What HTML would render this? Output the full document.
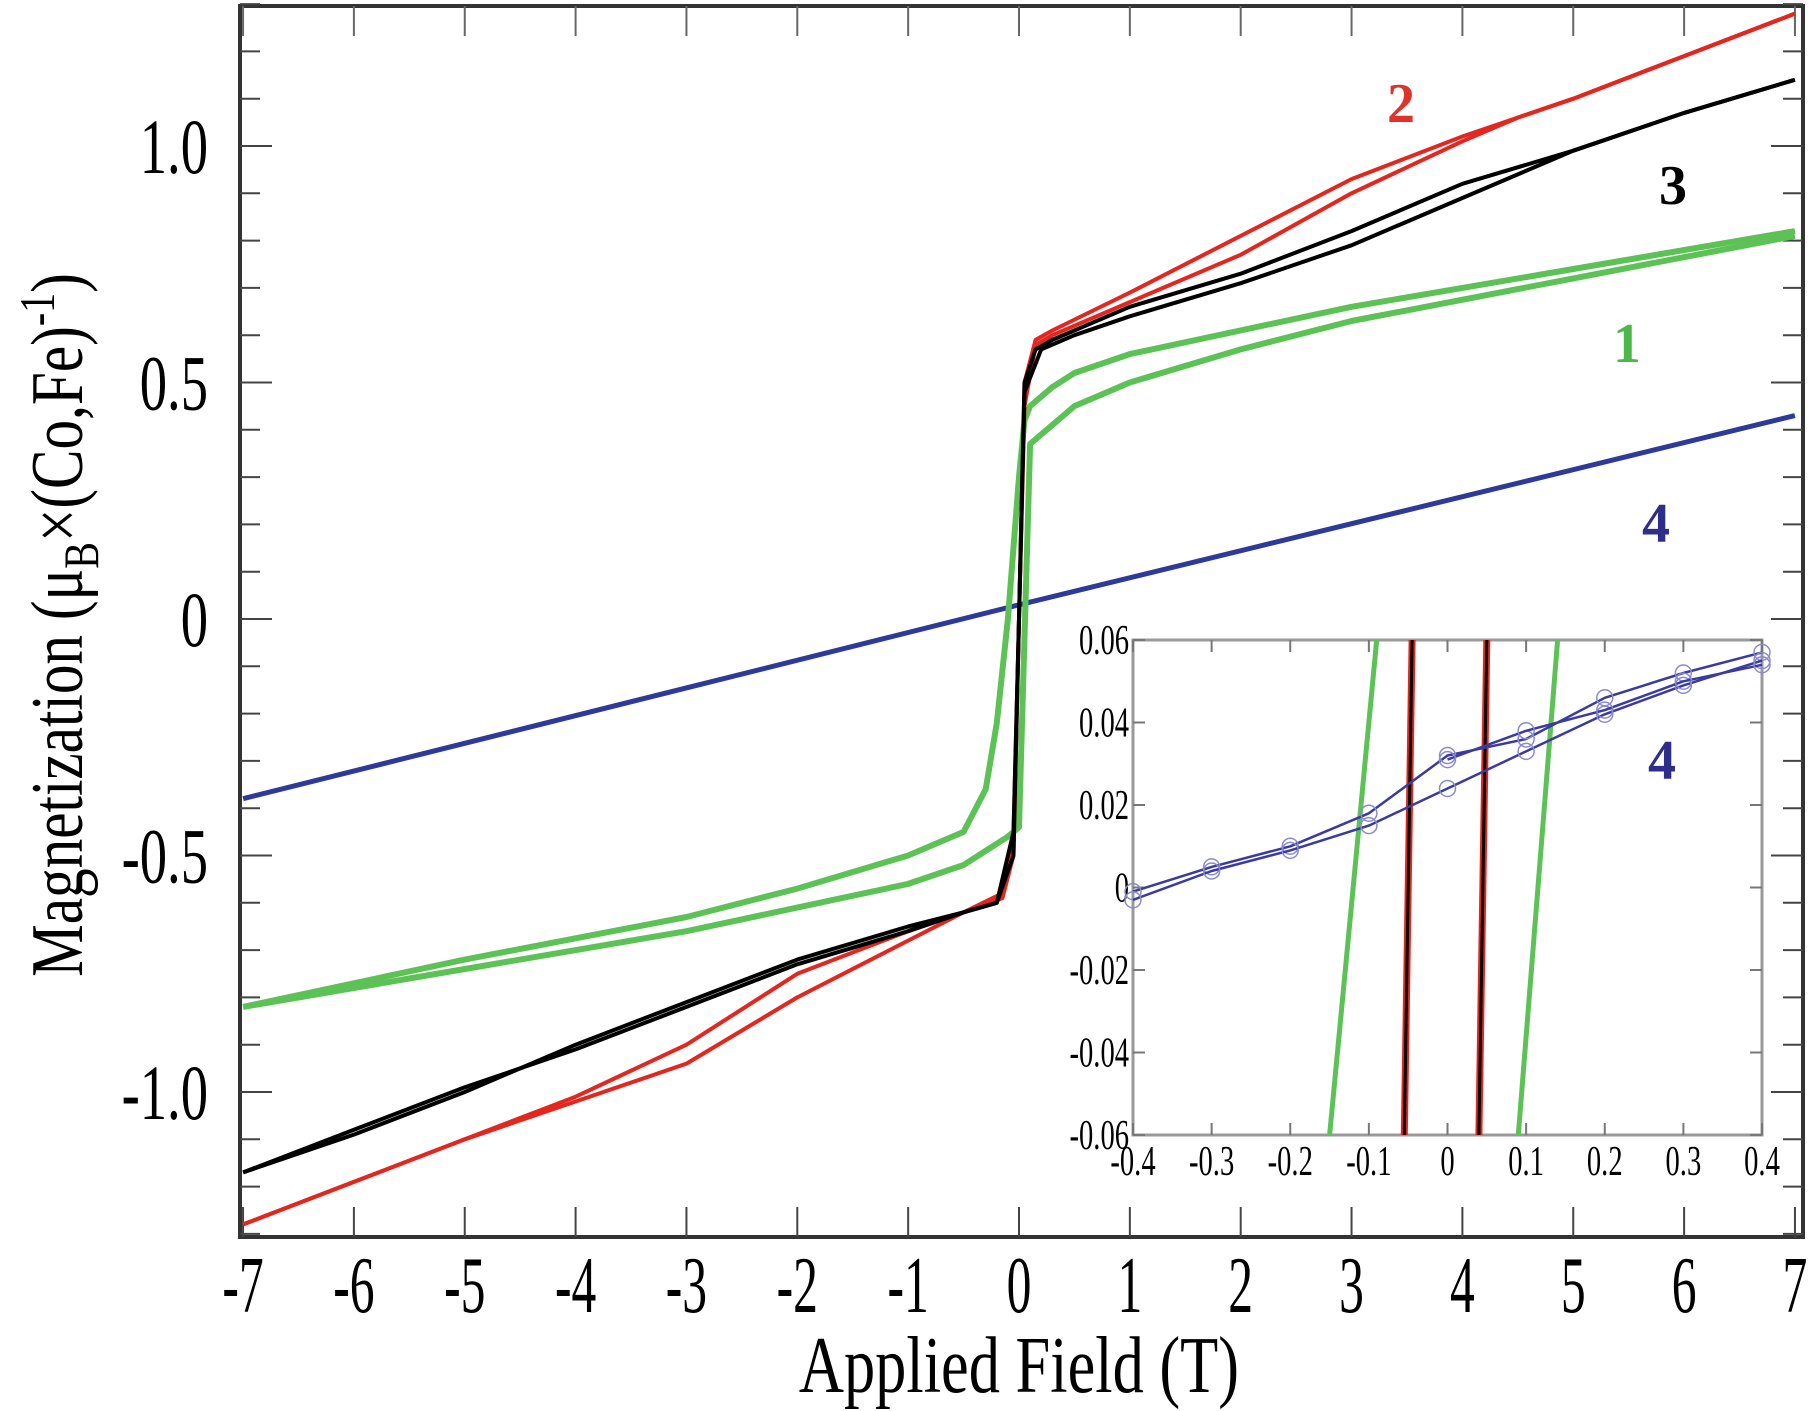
<!DOCTYPE html>
<html><head><meta charset="utf-8"><style>
html,body{margin:0;padding:0;background:#fff;}
svg{display:block;}
text{font-family:"Liberation Serif",serif;}
</style></head><body>
<svg id="chart" width="1812" height="1411" viewBox="0 0 1812 1411" xmlns="http://www.w3.org/2000/svg">
<rect width="1812" height="1411" fill="#fff"/>
<g id="main"></g>
<g id="inset"></g>
<text transform="translate(1019,1392) scale(0.78,1)" font-size="80" text-anchor="middle">Applied Field (T)</text>
<text transform="translate(82,625) rotate(-90) scale(0.8,1)" font-size="74" text-anchor="middle">Magnetization (μ<tspan font-size="50" dy="16">B</tspan><tspan dy="-16">×(Co,Fe)</tspan><tspan font-size="50" dy="-28">-1</tspan><tspan dy="28">)</tspan></text>
<text x="1401" y="122" font-size="56" font-weight="bold" fill="#e0322a" text-anchor="middle">2</text>
<text x="1673" y="204" font-size="56" font-weight="bold" fill="#000" text-anchor="middle">3</text>
<text x="1627" y="362" font-size="56" font-weight="bold" fill="#4cb848" text-anchor="middle">1</text>
<text x="1656" y="542" font-size="56" font-weight="bold" fill="#2e2e8a" text-anchor="middle">4</text>
<text x="1662" y="779" font-size="56" font-weight="bold" fill="#2e2e8a" text-anchor="middle">4</text>
</svg>
<script>
// ---------- main chart data ----------
const xTicks=[-7,-6,-5,-4,-3,-2,-1,0,1,2,3,4,5,6,7];
const yTicks=[-1.0,-0.5,0,0.5,1.0];
const yTickLabels=["-1.0","-0.5","0","0.5","1.0"];
const s4X=[-7,0,7];
const s4Y=[-0.38,0.03,0.43];
const s1DownX=[7,5,3,1,0.5,0.3,0.1,0.05,0,-0.1,-0.2,-0.3,-0.5,-1,-2,-3,-5,-7];
const s1DownY=[0.82,0.74,0.66,0.56,0.52,0.49,0.45,0.42,0.3,0.0,-0.22,-0.36,-0.45,-0.5,-0.57,-0.63,-0.72,-0.82];
const s1UpX=[-7,-5,-3,-1,-0.5,-0.3,-0.1,-0.05,0,0.1,0.2,0.3,0.5,1,2,3,5,7];
const s1UpY=[-0.82,-0.74,-0.66,-0.56,-0.52,-0.49,-0.46,-0.45,-0.44,0.37,0.39,0.41,0.45,0.5,0.57,0.63,0.72,0.81];
const s2DownX=[7,6,5,4.5,4,3,2,1,0.3,0.15,0.05,0,-0.05,-0.15,-0.5,-1,-2,-3,-4,-5,-6,-7];
const s2DownY=[1.28,1.19,1.1,1.06,1.02,0.93,0.81,0.69,0.61,0.59,0.5,0.0,-0.45,-0.58,-0.62,-0.66,-0.75,-0.9,-1.01,-1.1,-1.19,-1.28];
const s2UpX=[-7,-6,-5,-4,-3,-2,-1,-0.5,-0.15,-0.05,0,0.05,0.15,0.3,1,2,3,4,4.5,5,6,7];
const s2UpY=[-1.28,-1.19,-1.1,-1.02,-0.94,-0.8,-0.68,-0.62,-0.59,-0.5,0.0,0.45,0.58,0.6,0.67,0.77,0.9,1.01,1.06,1.1,1.19,1.28];
const s3DownX=[7,6,5,4,3,2,1,0.3,0.15,0.05,0,-0.05,-0.2,-0.5,-1,-2,-3,-4,-5,-6,-7];
const s3DownY=[1.14,1.07,0.99,0.92,0.82,0.73,0.66,0.59,0.57,0.5,0.0,-0.45,-0.6,-0.62,-0.65,-0.72,-0.81,-0.9,-1.0,-1.09,-1.17];
const s3UpX=[-7,-6,-5,-4,-3,-2,-1,-0.5,-0.2,-0.05,0,0.05,0.2,0.5,1,2,3,4,5,6,7];
const s3UpY=[-1.17,-1.08,-0.99,-0.91,-0.82,-0.73,-0.66,-0.62,-0.6,-0.5,0.0,0.48,0.57,0.6,0.64,0.71,0.79,0.89,0.99,1.07,1.14];
// ---------- inset data ----------
const inXTicks=[-0.4,-0.3,-0.2,-0.1,0,0.1,0.2,0.3,0.4];
const inXLabels=["-0.4","-0.3","-0.2","-0.1","0","0.1","0.2","0.3","0.4"];
const inYTicks=[-0.06,-0.04,-0.02,0,0.02,0.04,0.06];
const inYLabels=["-0.06","-0.04","-0.02","0","0.02","0.04","0.06"];
const in4aX=[-0.4,-0.3,-0.2,-0.1,0,0.1,0.2,0.3,0.4];
const in4aY=[-0.001,0.005,0.010,0.018,0.032,0.036,0.046,0.052,0.057];
const in4bX=[-0.4,-0.3,-0.2,-0.1,0,0.1,0.2,0.3,0.4];
const in4bY=[-0.003,0.004,0.009,0.015,0.024,0.033,0.042,0.049,0.055];
const in4cX=[0,0.1,0.2,0.3,0.4];
const in4cY=[0.031,0.038,0.043,0.050,0.054];
const inG1X=[-0.15,-0.09];
const inG1Y=[-0.06,0.06];
const inG2X=[0.09,0.14];
const inG2Y=[-0.06,0.06];
const inR1X=[-0.055,-0.045];
const inR2X=[0.04,0.05];
const inBandY=[-0.06,0.06];

const NS="http://www.w3.org/2000/svg";
const L=240,R=1803,T=6,B=1237;
const xs=v=>1019+v*110.85;
const ys=v=>619-v*473;
const iL=1133,iR=1762,iT=640,iB=1135;
const ixs=v=>iL+(v+0.4)/0.8*(iR-iL);
const iys=v=>iT+(0.06-v)/0.12*(iB-iT);
function mk(tag,attrs,parent){const e=document.createElementNS(NS,tag);for(const k in attrs)e.setAttribute(k,attrs[k]);parent.appendChild(e);return e;}
const main=document.getElementById('main');
const inset=document.getElementById('inset');
function line(X,Y,sx,sy,color,w,name,parent){
  const d=X.map((x,i)=>(i?'L':'M')+sx(x).toFixed(1)+','+sy(Y[i]).toFixed(1)).join('');
  const p=mk('path',{d:d,fill:'none',stroke:color,'stroke-width':w,'stroke-linejoin':'round'},parent);
  
  
  return p;
}
const fr=mk('rect',{x:L,y:T,width:R-L,height:B-T,fill:'none',stroke:'#333','stroke-width':4},main);


xTicks.forEach(v=>{
  const x=xs(v);
  mk('line',{x1:x,y1:B,x2:x,y2:B-30,stroke:'#444','stroke-width':2},main);
  mk('line',{x1:x,y1:T,x2:x,y2:T+30,stroke:'#666','stroke-width':2},main);
  const t=mk('text',{transform:'translate('+x+',1312) scale(0.62,1)','font-size':80,'text-anchor':'middle'},main);
  t.textContent=v<0?'-'+Math.abs(v):String(v);
  
  
});
for(let v=-1.3;v<=1.3001;v+=0.1){
  const y=ys(v);const major=Math.abs(Math.round(v*10)%5)===0;
  mk('line',{x1:L,y1:y,x2:L+(major?32:20),y2:y,stroke:'#444','stroke-width':2},main);
  mk('line',{x1:R,y1:y,x2:R-(major?32:20),y2:y,stroke:'#444','stroke-width':2},main);
}
yTicks.forEach((v,i)=>{
  const t=mk('text',{transform:'translate(208,'+(ys(v)+27)+') scale(0.7,1)','font-size':78,'text-anchor':'end'},main);
  t.textContent=yTickLabels[i];
  
  
});
line(s4X,s4Y,xs,ys,'#2e3a9a',5,'series-4-line',main);
line(s1DownX,s1DownY,xs,ys,'#5cc256',6,'series-1-descending',main);
line(s1UpX,s1UpY,xs,ys,'#5cc256',6,'series-1-ascending',main);
line(s2DownX,s2DownY,xs,ys,'#e3261e',4,'series-2-descending',main);
line(s2UpX,s2UpY,xs,ys,'#e3261e',4,'series-2-ascending',main);
line(s3DownX,s3DownY,xs,ys,'#000',4,'series-3-descending',main);
line(s3UpX,s3UpY,xs,ys,'#000',4,'series-3-ascending',main);
const ib=mk('rect',{x:iL,y:iT,width:iR-iL,height:iB-iT,fill:'#fff',stroke:'#999','stroke-width':3},inset);


inXTicks.forEach((v,i)=>{
  const x=ixs(v);
  mk('line',{x1:x,y1:iB,x2:x,y2:iB-12,stroke:'#777','stroke-width':2},inset);
  mk('line',{x1:x,y1:iT,x2:x,y2:iT+12,stroke:'#777','stroke-width':2},inset);
  const t=mk('text',{transform:'translate('+x+','+(iB+40)+') scale(0.68,1)','font-size':42,'text-anchor':'middle'},inset);
  t.textContent=inXLabels[i];
  
  
});
inYTicks.forEach((v,i)=>{
  const y=iys(v);
  mk('line',{x1:iL,y1:y,x2:iL+12,y2:y,stroke:'#777','stroke-width':2},inset);
  mk('line',{x1:iR,y1:y,x2:iR-12,y2:y,stroke:'#777','stroke-width':2},inset);
  const t=mk('text',{transform:'translate('+(iL-4)+','+(y+14)+') scale(0.68,1)','font-size':42,'text-anchor':'end'},inset);
  t.textContent=inYLabels[i];
  
  
});
line(inG1X,inG1Y,ixs,iys,'#5cc256',5,'inset-series-1-left',inset);
line(inG2X,inG2Y,ixs,iys,'#5cc256',5,'inset-series-1-right',inset);
line(inR1X,inBandY,ixs,iys,'#e3261e',7,'inset-series-2-left',inset);
line(inR2X,inBandY,ixs,iys,'#e3261e',7,'inset-series-2-right',inset);
line(inR1X,inBandY,ixs,iys,'#000',3,'inset-series-3-left',inset);
line(inR2X,inBandY,ixs,iys,'#000',3,'inset-series-3-right',inset);
[[in4aX,in4aY],[in4bX,in4bY],[in4cX,in4cY]].forEach(([X,Y],k)=>{
  line(X,Y,ixs,iys,'#3a3aa0',2.5,'inset-series-4-line',inset);
  X.forEach((x,i)=>{
    const c=mk('circle',{cx:ixs(x),cy:iys(Y[i]),r:8,fill:'none',stroke:'#8a8ad0','stroke-width':1.5},inset);
    
    
  });
});
</script>
</body></html>
